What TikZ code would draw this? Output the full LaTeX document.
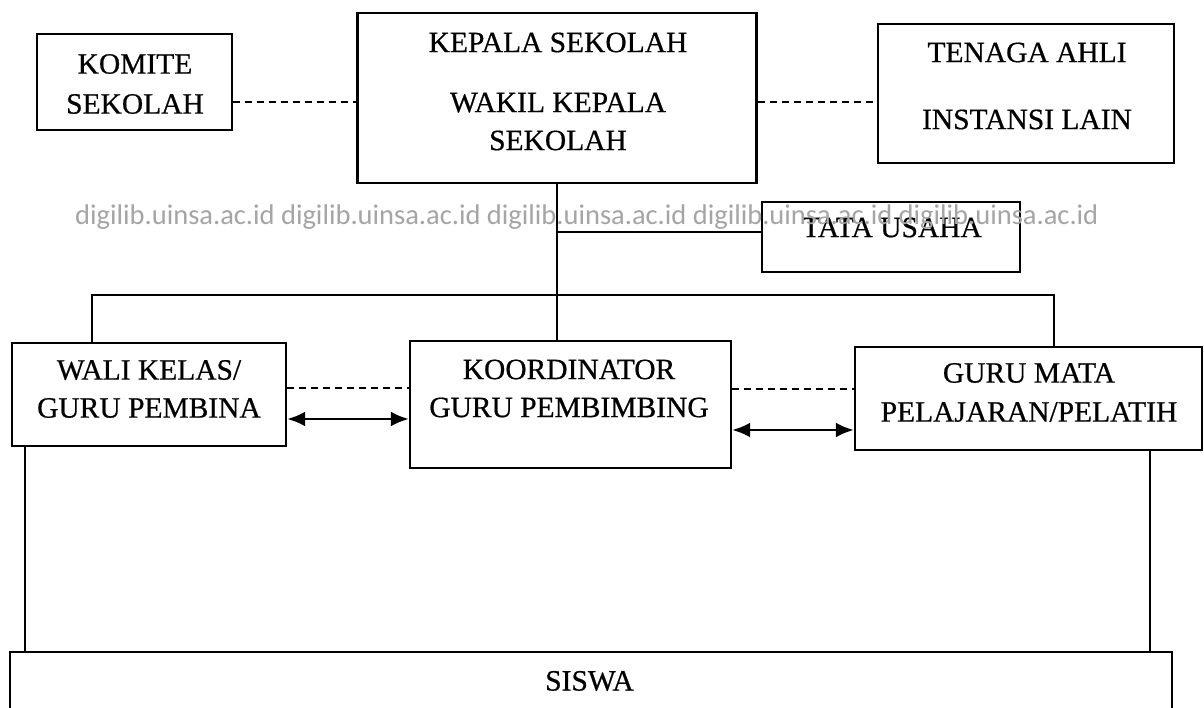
\documentclass[tikz,border=0pt]{standalone}
\usepackage{fontspec}
\setmainfont{Liberation Serif}[FakeBold=0.6]
\newfontfamily\wmfont{Carlito}
\usetikzlibrary{arrows.meta}
\definecolor{wmgray}{RGB}{165,165,165}
\tikzset{
  box/.style={draw, line width=2.4pt, inner sep=0pt},
  lbl/.style={inner sep=0pt, align=center, font=\fontsize{29.5}{38}\selectfont},
  link/.style={line width=2.2pt},
  dashlink/.style={line width=1.7pt, dash pattern=on 7pt off 5pt},
  biarrow/.style={line width=2.6pt, {Latex[length=18pt,width=15pt]}-{Latex[length=18pt,width=15pt]}},
}
\begin{document}
\begin{tikzpicture}[x=1pt,y=-1pt]
\useasboundingbox (0,0) rectangle (1204,708);
\clip (0,0) rectangle (1204,708);
\fill[white] (0,0) rectangle (1204,708);
% boxes
\node[box, minimum width=195pt, minimum height=96pt]  (komite) at (134.5,82) {};
\node[box, minimum width=399pt, minimum height=170pt] (kepala) at (557,98) {};
\node[box, minimum width=296pt, minimum height=139pt] (tenaga) at (1026,93.5) {};
\node[box, minimum width=258pt, minimum height=70pt]  (tata)   at (891,237) {};
\node[box, minimum width=274pt, minimum height=103pt] (wali)   at (149,394.5) {};
\node[box, minimum width=321pt, minimum height=127pt] (koor)   at (570.5,404.5) {};
\node[box, minimum width=347pt, minimum height=103pt] (guru)   at (1028.5,398.5) {};
\node[box, minimum width=1162pt, minimum height=100pt] (siswa) at (591,702) {};
% labels
\node[lbl] (komiteT) at (135,84) {KOMITE\\[2pt]SEKOLAH};
\node[lbl] (kepalaT) at (558,91.5) {KEPALA SEKOLAH\\[22pt]WAKIL KEPALA\\SEKOLAH};
\node[lbl] (tenagaT) at (1027,86) {TENAGA AHLI\\[29pt]INSTANSI LAIN};
\node[lbl] (tataT)   at (892,227.5) {TATA USAHA};
\node[lbl] (waliT)   at (149,389) {WALI KELAS/\\GURU PEMBINA};
\node[lbl] (koorT)   at (569,388.5) {KOORDINATOR\\GURU PEMBIMBING};
\node[lbl] (guruT)   at (1029,392.5) {GURU MATA\\[1pt]PELAJARAN/PELATIH};
\node[lbl] (siswaT)  at (589.5,681) {SISWA};
% helper coordinates
\coordinate (k1) at ([yshift=-20pt]komite.east);
\coordinate (k2) at ([yshift=-4pt]kepala.east);
\coordinate (t1) at ([yshift=5pt]tata.west);
\coordinate (busL) at (92,295);
\coordinate (busR) at (1054,295);
\coordinate (d1) at ([yshift=6.5pt]wali.east);
\coordinate (a1) at ([yshift=-24.5pt]wali.east);
\coordinate (d2) at ([yshift=15.5pt]koor.east);
\coordinate (a2) at ([yshift=-25.5pt]koor.east);
\coordinate (w1) at (25,446);
\coordinate (g1) at (1150,450);
% connectors
\draw[dashlink] (k1) -- (k1 -| kepala.west);
\draw[dashlink] (k2) -- (k2 -| tenaga.west);
\draw[link] (kepala.south) -- (kepala.south |- koor.north);
\draw[link] (t1) -- (t1 -| kepala.south);
\draw[link] (busL |- wali.north) -- (busL) -- (busR) -- (busR |- guru.north);
\draw[dashlink] (d1) -- (d1 -| koor.west);
\draw[biarrow] (a1) -- (a1 -| koor.west);
\draw[dashlink] (d2) -- (d2 -| guru.west);
\draw[biarrow] (a2) -- (a2 -| guru.west);
\draw[link] (w1) -- (w1 |- siswa.north);
\draw[link] (g1) -- (g1 |- siswa.north);
% watermark
\node[anchor=base west, inner sep=0pt, text=wmgray, font=\wmfont\fontsize{28.5}{30}\selectfont] (wm) at (75,225)
  {digilib.uinsa.ac.id digilib.uinsa.ac.id digilib.uinsa.ac.id digilib.uinsa.ac.id digilib.uinsa.ac.id};
\end{tikzpicture}
\end{document}
